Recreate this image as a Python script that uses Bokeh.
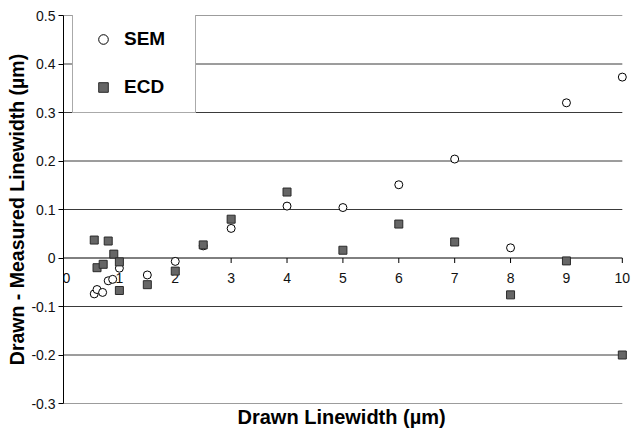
from bokeh.plotting import figure
from bokeh.models import (Range1d, FixedTicker, CustomJSTickFormatter, Title,
                          Legend, LegendItem, ColumnDataSource)
from bokeh.core.properties import value
from bokeh.embed import file_html
from bokeh.resources import INLINE

# ---- data ----
sem_x = [0.55, 0.6, 0.7, 0.8, 0.88, 1.0, 1.5, 2, 2.5, 3, 4, 5, 6, 7, 8, 9, 10]
sem_y = [-0.074, -0.065, -0.071, -0.047, -0.044, -0.021, -0.035, -0.007, 0.025,
         0.061, 0.107, 0.104, 0.151, 0.204, 0.021, 0.320, 0.373]
ecd_x = [0.55, 0.6, 0.71, 0.8, 0.9, 1.0, 1.0, 1.5, 2, 2.5, 3, 4, 5, 6, 7, 8, 9, 10]
ecd_y = [0.037, -0.020, -0.013, 0.035, 0.008, -0.008, -0.067, -0.055, -0.027,
         0.027, 0.080, 0.136, 0.016, 0.070, 0.033, -0.076, -0.006, -0.200]

x_ticks = [0, 1, 2, 3, 4, 5, 6, 7, 8, 9, 10]
x_tick_labels = ["0", "1", "2", "3", "4", "5", "6", "7", "8", "9", "10"]
y_ticks = [-0.3, -0.2, -0.1, 0.0, 0.1, 0.2, 0.3, 0.4, 0.5]
grid_y = [-0.3, -0.2, -0.1, 0.1, 0.2, 0.3, 0.4, 0.5]

x_label = "Drawn Linewidth (µm)"
y_label = "Drawn - Measured Linewidth (µm)"
series_names = ["SEM", "ECD"]

FONT = "Liberation Sans"

p = figure(width=642, height=432, x_range=Range1d(0, 10.2), y_range=Range1d(-0.3, 0.5),
           output_backend="svg", toolbar_location=None,
           min_border_left=63, min_border_right=9, min_border_top=15, min_border_bottom=29)
p.outline_line_color = None
p.xgrid.visible = False
p.ygrid.visible = False
p.background_fill_color = "white"
p.border_fill_color = "white"

# horizontal grid lines ending at x = 10
gsrc = ColumnDataSource(dict(x0=[x_ticks[0]] * len(grid_y), x1=[x_ticks[-1]] * len(grid_y),
                             y=grid_y))
p.segment(x0="x0", x1="x1", y0="y", y1="y", source=gsrc, line_color="#3a3a3a", line_width=1)

# x axis drawn along y = 0 (line, downward ticks, labels underneath)
xa = p.xaxis[0]
xa.visible = False
p.segment(x0=[x_ticks[0]], x1=[x_ticks[-1]], y0=[0], y1=[0], line_color="black", line_width=1)
tick_len = 5 * (0.8 / 388)  # 5 px expressed in data units
tsrc = ColumnDataSource(dict(x=x_ticks[1:], y0=[0] * (len(x_ticks) - 1),
                             y1=[-tick_len] * (len(x_ticks) - 1)))
p.segment(x0="x", x1="x", y0="y0", y1="y1", source=tsrc, line_color="black", line_width=1)
lsrc = ColumnDataSource(dict(x=x_ticks, y=[0] * len(x_ticks), t=x_tick_labels,
                             xo=[3] + [0] * (len(x_ticks) - 1)))
p.text(x="x", y="y", text="t", source=lsrc, x_offset="xo", y_offset=20,
       text_align="center", text_baseline="middle", text_font=value(FONT),
       text_font_size="14px", text_color="#111111")

ya = p.yaxis[0]
ya.ticker = FixedTicker(ticks=y_ticks)
ya.formatter = CustomJSTickFormatter(code="return Math.abs(tick) < 1e-9 ? '0' : tick.toFixed(1);")
ya.major_tick_out = 5
ya.major_tick_in = 0
ya.minor_tick_line_color = None
ya.axis_line_color = "black"
ya.major_tick_line_color = "black"
ya.major_label_text_font = FONT
ya.major_label_text_font_size = "14px"
ya.major_label_text_color = "#111111"
ya.major_label_standoff = 3
ya.axis_label = y_label
ya.axis_label_text_font = FONT
ya.axis_label_text_font_size = "19.5px"
ya.axis_label_text_font_style = "bold"
ya.axis_label_text_color = "black"
ya.axis_label_standoff = 0

r_sem = p.scatter(sem_x, sem_y, marker="circle", size=8, fill_color="white",
                  line_color="black", line_width=1)
r_ecd = p.scatter(ecd_x, ecd_y, marker="square", size=8, fill_color="#666666",
                  line_color="#2a2a2a", line_width=1)

legend = Legend(items=[LegendItem(label=series_names[0], renderers=[r_sem]),
                       LegendItem(label=series_names[1], renderers=[r_ecd])],
                location=(9, 290), padding=13, spacing=24, margin=0,
                glyph_width=34, glyph_height=24, label_height=24, label_width=58,
                label_standoff=4,
                label_text_font=FONT, label_text_font_size="19px",
                label_text_font_style="bold", label_text_color="black",
                border_line_color="#555555", border_line_width=1,
                background_fill_color="white", background_fill_alpha=1.0)
p.add_layout(legend, "center")

p.add_layout(Title(text=x_label, align="left", text_font=FONT, text_font_size="20px",
                   text_font_style="bold", text_color="black", standoff=0, offset=174), "below")

open("out.html", "w").write(file_html(p, INLINE))
